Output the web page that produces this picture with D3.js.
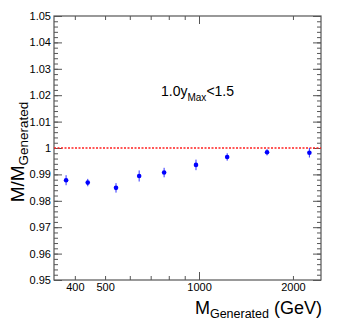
<!DOCTYPE html>
<html>
<head>
<meta charset="utf-8">
<script src="https://cdn.jsdelivr.net/npm/d3@7"></script>
<style>
  body { margin: 0; background: #fff; }
  svg { font-family: "Liberation Sans", Arial, sans-serif; }
</style>
</head>
<body>
<div class="chart"></div>
<script>
var svgWidth = 338;
var svgHeight = 322;

var margin = { top: 16, right: 17, bottom: 42, left: 54 };
var width = svgWidth - margin.left - margin.right;
var height = svgHeight - margin.top - margin.bottom;

// data
var massGen = [375, 440, 542, 643, 773, 978, 1231, 1652, 2258];
var ratio = [0.9878, 0.9869, 0.9849, 0.9894, 0.9907, 0.9936, 0.9966, 0.9984, 0.9982];
var ratioErr = [0.0019, 0.0014, 0.0018, 0.0021, 0.0018, 0.0020, 0.0014, 0.0012, 0.0018];

var xMajor = [1000];
var xMinor = [400, 500, 600, 700, 800, 900, 2000];
var xLabels = [400, 500, 1000, 2000];
var yMajor = [0.95, 0.96, 0.97, 0.98, 0.99, 1.00, 1.01, 1.02, 1.03, 1.04, 1.05];
var refLine = 1.0;

var svg = d3.select(".chart")
  .append("svg")
  .attr("width", svgWidth)
  .attr("height", svgHeight);

var chartGroup = svg.append("g")
  .attr("transform", `translate(${margin.left}, ${margin.top})`);

var x = d3.scaleLog()
  .domain([343, 2460])
  .range([0, width]);

var y = d3.scaleLinear()
  .domain([0.95, 1.05])
  .range([height, 0]);

var yMinor = d3.range(0, 51).map(i => 0.95 + i * 0.002);

var axisColor = "#555";
var fmtY = d => String(+d.toFixed(2));

function styleAxis(g) {
  g.select(".domain").remove();
  g.selectAll("line").attr("stroke", axisColor);
  g.selectAll("text")
    .attr("fill", "#000")
    .style("font-size", "11px")
    .style("font-family", "Liberation Sans, Arial, sans-serif");
}

// bottom axis: minor, major, labels
chartGroup.append("g")
  .attr("transform", `translate(0, ${height})`)
  .call(d3.axisBottom(x).tickValues(xMinor).tickSize(-4).tickFormat(""))
  .call(styleAxis);
chartGroup.append("g")
  .attr("transform", `translate(0, ${height})`)
  .call(d3.axisBottom(x).tickValues(xMajor).tickSize(-8).tickFormat(""))
  .call(styleAxis);
chartGroup.append("g")
  .attr("transform", `translate(0, ${height})`)
  .call(d3.axisBottom(x).tickValues(xLabels).tickSize(0).tickPadding(3).tickFormat(d3.format("d")))
  .call(styleAxis);

// top axis (mirror ticks)
chartGroup.append("g")
  .call(d3.axisTop(x).tickValues(xMinor).tickSize(-4).tickFormat(""))
  .call(styleAxis);
chartGroup.append("g")
  .call(d3.axisTop(x).tickValues(xMajor).tickSize(-8).tickFormat(""))
  .call(styleAxis);

// left axis
chartGroup.append("g")
  .call(d3.axisLeft(y).tickValues(yMinor).tickSize(-4).tickFormat(""))
  .call(styleAxis);
chartGroup.append("g")
  .call(d3.axisLeft(y).tickValues(yMajor).tickSize(-8).tickPadding(3).tickFormat(fmtY))
  .call(styleAxis);

// right axis (mirror ticks)
chartGroup.append("g")
  .attr("transform", `translate(${width}, 0)`)
  .call(d3.axisRight(y).tickValues(yMinor).tickSize(-4).tickFormat(""))
  .call(styleAxis);
chartGroup.append("g")
  .attr("transform", `translate(${width}, 0)`)
  .call(d3.axisRight(y).tickValues(yMajor).tickSize(-8).tickFormat(""))
  .call(styleAxis);

// frame
chartGroup.append("rect")
  .attr("width", width)
  .attr("height", height)
  .attr("fill", "none")
  .attr("stroke", axisColor)
  .attr("stroke-width", 1.2);

// reference line at 1
chartGroup.append("line")
  .attr("x1", 0)
  .attr("x2", width)
  .attr("y1", y(refLine))
  .attr("y2", y(refLine))
  .attr("stroke", "#ff2020")
  .attr("stroke-width", 1.4)
  .attr("stroke-dasharray", "2,1.5");

var points = massGen.map((m, i) => ({ m: m, r: ratio[i], e: ratioErr[i] }));

// error bars
chartGroup.selectAll(".err")
  .data(points)
  .enter()
  .append("line")
  .attr("class", "err")
  .attr("x1", d => x(d.m))
  .attr("x2", d => x(d.m))
  .attr("y1", d => y(d.r - d.e))
  .attr("y2", d => y(d.r + d.e))
  .attr("stroke", "#3333ff")
  .attr("stroke-width", 1);

// markers
chartGroup.selectAll(".pt")
  .data(points)
  .enter()
  .append("circle")
  .attr("class", "pt")
  .attr("cx", d => x(d.m))
  .attr("cy", d => y(d.r))
  .attr("r", 2.3)
  .attr("fill", "#0000ff");

// annotation
var note = chartGroup.append("text")
  .attr("x", 107)
  .attr("y", 80)
  .style("font-size", "14px");
note.append("tspan").text("1.0y");
note.append("tspan").attr("dy", 5).style("font-size", "10px").text("Max");
note.append("tspan").attr("dy", -5).text("<1.5");

// x axis title
var xTitle = svg.append("text")
  .attr("x", 322)
  .attr("y", 314)
  .attr("text-anchor", "end")
  .style("font-size", "18px");
xTitle.append("tspan").text("M");
xTitle.append("tspan").attr("dy", 4).style("font-size", "12.5px").text("Generated");
xTitle.append("tspan").attr("dy", -4).text(" (GeV)");

// y axis title
var yTitle = svg.append("text")
  .attr("transform", "translate(24, 152) rotate(-90)")
  .attr("text-anchor", "middle")
  .style("font-size", "19px");
yTitle.append("tspan").text("M/M");
yTitle.append("tspan").attr("dy", 4).style("font-size", "13.5px").text("Generated");
</script>
</body>
</html>
